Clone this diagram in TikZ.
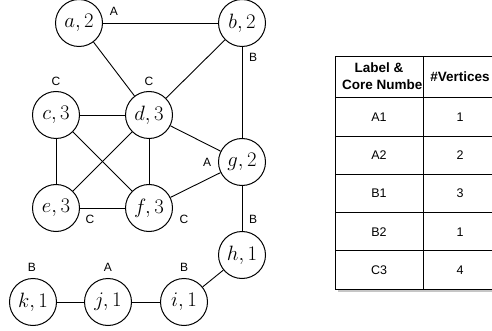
\documentclass[tikz,border=0pt]{standalone}
\usepackage{fontspec}
\setsansfont{Liberation Sans}
\begin{document}
\begin{tikzpicture}[x=1pt,y=-1pt,
  vert/.style={circle,draw,line width=1pt,minimum size=47pt,inner sep=0pt,fill=white,font=\fontsize{22}{26}\selectfont},
  edge/.style={line width=0.9pt},
  elab/.style={inner sep=0pt,font=\sffamily\fontsize{12}{14}\selectfont},
  cell/.style={inner sep=0pt,font=\sffamily\fontsize{12.5}{15}\selectfont},
  head/.style={inner sep=0pt,font=\sffamily\bfseries\fontsize{13.5}{16}\selectfont},
  tline/.style={line width=1pt}]
\useasboundingbox (0,0) rectangle (492,331);
\clip (0,0) rectangle (492,331);
% graph
\node[vert] (a) at (79,23) {$a,2$};
\node[vert] (b) at (242,23) {$b,2$};
\node[vert] (c) at (56,115) {$c,3$};
\node[vert] (d) at (149,115) {$d,3$};
\node[vert] (g) at (242,162) {$g,2$};
\node[vert] (e) at (56,208) {$e,3$};
\node[vert] (f) at (149,208) {$f,3$};
\node[vert] (h) at (242,255) {$h,1$};
\node[vert] (k) at (33,302) {$k,1$};
\node[vert] (j) at (108,302) {$j,1$};
\node[vert] (i) at (184,302) {$i,1$};
\draw[edge] (a) -- (b);
\draw[edge] (a) -- (d);
\draw[edge] (b) -- (d);
\draw[edge] (b) -- (g);
\draw[edge] (c) -- (d);
\draw[edge] (c) -- (e);
\draw[edge] (c) -- (f);
\draw[edge] (d) -- (e);
\draw[edge] (d) -- (f);
\draw[edge] (d) -- (g);
\draw[edge] (e) -- (f);
\draw[edge] (f) -- (g);
\draw[edge] (g) -- (h);
\draw[edge] (h) -- (i);
\draw[edge] (i) -- (j);
\draw[edge] (j) -- (k);
% edge/vertex labels
\node[elab] (la) at (114,11) {A};
\node[elab] (lb) at (253,57) {B};
\node[elab] (lc) at (56,81) {C};
\node[elab] (ld) at (149,81) {C};
\node[elab] (lg) at (207,162) {A};
\node[elab] (le) at (90,219) {C};
\node[elab] (lf) at (184,219) {C};
\node[elab] (lh) at (253,219) {B};
\node[elab] (lk) at (32,267) {B};
\node[elab] (lj) at (108,267) {A};
\node[elab] (li) at (184,267) {B};
% table
\fill[gray!45] (338,292) rectangle (502,289);
\fill[white] (335,57) rectangle (500,289);
\draw[tline] (335,57) -- (500,57);
\draw[tline] (335,57) -- (335,289);
\draw[tline] (423,57) -- (423,289);
\foreach \yy in {98,136.2,174.4,212.6,250.8,289}{\draw[tline] (335,\yy) -- (500,\yy);}
\node[head] (h1) at (379,68) {Label \&};
\begin{scope}
\clip (336,58) rectangle (422.4,97);
\node[head] (h2) at (385,85) {Core Number};
\end{scope}
\node[head] (h3) at (460,77) {\#Vertices};
\node[cell] (r1a) at (379,117.1) {A1};
\node[cell] (r1b) at (460,117.1) {1};
\node[cell] (r2a) at (379,155.3) {A2};
\node[cell] (r2b) at (460,155.3) {2};
\node[cell] (r3a) at (379,193.5) {B1};
\node[cell] (r3b) at (460,193.5) {3};
\node[cell] (r4a) at (379,231.7) {B2};
\node[cell] (r4b) at (460,231.7) {1};
\node[cell] (r5a) at (379,269.9) {C3};
\node[cell] (r5b) at (460,269.9) {4};
\end{tikzpicture}
\end{document}
